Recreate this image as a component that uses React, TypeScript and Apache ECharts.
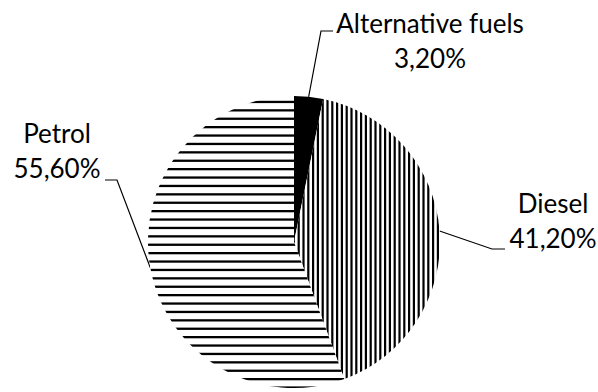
import React, { useEffect, useRef } from "react";
import * as echarts from "echarts";

// Fuel type share
const categories = ["Alternative fuels", "Diesel", "Petrol"];
const shares = [3.2, 41.2, 55.6];

// Label anchor (centre of the two-line text block) and the leader bends
const labelPos: [number, number][] = [
  [430, 40],
  [553, 220],
  [57, 150],
];
const leaderBend: [number, number][][] = [
  [[321, 31], [333, 31]],
  [[492, 249], [505, 249]],
  [[117, 180], [105, 180]],
];

type Stripe = "solid" | "vertical" | "horizontal";
const fills: Stripe[] = ["solid", "vertical", "horizontal"];

function stripePattern(dir: "vertical" | "horizontal", period: number, thick: number, tiles: number) {
  const size = Math.round(period * tiles);
  const scale = 4;
  const c = document.createElement("canvas");
  c.width = size * scale;
  c.height = size * scale;
  const ctx = c.getContext("2d")!;
  ctx.fillStyle = "#ffffff";
  ctx.fillRect(0, 0, c.width, c.height);
  ctx.fillStyle = "#000000";
  for (let i = 0; i < tiles; i++) {
    const p = (i * size * scale) / tiles;
    if (dir === "vertical") ctx.fillRect(p, 0, thick * scale, c.height);
    else ctx.fillRect(0, p, c.width, thick * scale);
  }
  return {
    image: c.toDataURL(),
    repeat: "repeat",
    imageWidth: size,
    imageHeight: size,
  } as any;
}

function fmt(v: number) {
  return v.toFixed(2).replace(".", ",") + "%";
}

export default function App() {
  const ref = useRef<HTMLDivElement>(null);

  useEffect(() => {
    if (!ref.current) return;
    const chart = echarts.init(ref.current, null, { renderer: "svg" });
    const colorFor = (f: Stripe) =>
      f === "solid"
        ? "#000000"
        : f === "vertical"
        ? stripePattern("vertical", 4.8, 2.2, 10)
        : stripePattern("horizontal", 8.48, 2.3, 5);

    chart.setOption({
      animation: false,
      backgroundColor: "#ffffff",
      series: [
        {
          type: "pie",
          center: [294, 242],
          radius: 146,
          startAngle: 90,
          clockwise: true,
          avoidLabelOverlap: false,
          itemStyle: { borderWidth: 0 },
          label: {
            show: true,
            position: "outside",
            fontFamily: "Lato",
            fontSize: 26,
            lineHeight: 35,
            color: "#000000",
            align: "center",
            formatter: (p: any) => `${p.name}\n${fmt(p.value)}`,
          },
          labelLine: {
            show: true,
            length: 10,
            length2: 10,
            smooth: false,
            lineStyle: { color: "#000000", width: 1.2 },
          },
          labelLayout: (params: any) => {
            const i = params.dataIndex;
            const start = params.labelLinePoints ? params.labelLinePoints[0] : leaderBend[i][0];
            return {
              x: labelPos[i][0],
              y: labelPos[i][1],
              align: "center",
              verticalAlign: "middle",
              labelLinePoints: [start, leaderBend[i][0], leaderBend[i][1]],
            };
          },
          data: categories.map((name, i) => ({
            name,
            value: shares[i],
            itemStyle: { color: colorFor(fills[i]) },
          })),
        },
      ],
    });
    return () => chart.dispose();
  }, []);

  return (
    <div
      ref={ref}
      style={{ position: "fixed", left: 0, top: 0, width: 598, height: 392 }}
    />
  );
}
